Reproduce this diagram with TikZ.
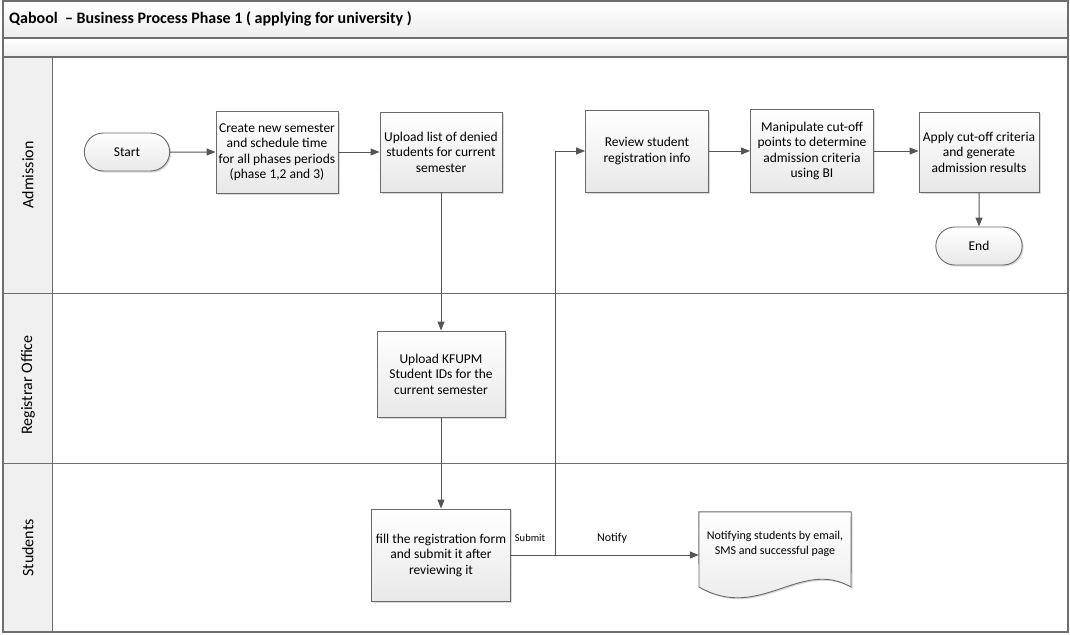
\documentclass[tikz,border=0pt]{standalone}
\usepackage{fontspec}
\setmainfont{Carlito}
\usetikzlibrary{arrows.meta,shapes.misc,shadows}
\definecolor{lineC}{HTML}{555555}
\definecolor{frameC}{HTML}{6E6E6E}
\definecolor{boxB}{HTML}{6A6A6A}
\tikzset{
  proc/.style={draw=boxB, line width=0.9pt, top color=white, bottom color=black!9,
    drop shadow={shadow xshift=1.5pt, shadow yshift=-1.5pt, fill=black!25, opacity=0.6},
    align=center, font=\fontsize{13.5}{15.5}\selectfont, inner sep=1pt},
  term/.style={draw=boxB, line width=0.9pt, rounded rectangle, top color=white, bottom color=black!9,
    drop shadow={shadow xshift=1.5pt, shadow yshift=-1.5pt, fill=black!25, opacity=0.6},
    font=\fontsize{13.5}{15}\selectfont},
  arr/.style={draw=lineC, line width=1pt, -{Triangle[length=9pt,width=7pt]}},
  lbl/.style={font=\fontsize{10.5}{12}\selectfont, inner sep=0pt},
  lane/.style={font=\fontsize{16}{18}\selectfont, rotate=90, inner sep=0pt},
}
\begin{document}
\begin{tikzpicture}[x=1pt,y=-1pt]
\useasboundingbox (0,0) rectangle (1070,634);
% frame
\shade[top color=white, bottom color=black!7] (3,1) rectangle (1068,38);
\shade[top color=white, bottom color=black!7] (3,38) rectangle (1068,57);
\fill[black!6] (3,57) rectangle (52,632);
\draw[frameC, line width=1.2pt] (3,1) rectangle (1068,632);
\draw[frameC, line width=1.2pt] (3,38) -- (1068,38);
\draw[frameC, line width=1.2pt] (3,57) -- (1068,57);
\draw[frameC, line width=1pt] (52,57) -- (52,632);
\draw[frameC, line width=1pt] (3,293) -- (1068,293);
\draw[frameC, line width=1pt] (3,463) -- (1068,463);
\node[anchor=west, font=\fontsize{16}{18}\selectfont\bfseries, inner sep=0pt] (title) at (9,19) {Qabool\ \ – Business Process Phase 1 ( applying for university )};
\node[lane] (l1) at (28,175) {Admission};
\node[lane] (l2) at (28,385) {Registrar Office};
\node[lane] (l3) at (28,548) {Students};
% nodes
\node[term, minimum width=92pt, minimum height=38pt] (start) at (127,152) {Start};
\node[proc, minimum width=122pt, minimum height=82pt] (create) at (277,152) {Create new semester\\and schedule time\\for all phases periods\\(phase 1,2 and 3)};
\node[proc, minimum width=122pt, minimum height=80pt] (upl) at (441,152) {Upload list of denied\\students for current\\semester};
\node[proc, minimum width=123pt, minimum height=82pt] (review) at (647,151) {Review student\\registration info};
\node[proc, minimum width=123pt, minimum height=83pt] (manip) at (812,151) {Manipulate cut-off\\points to determine\\admission criteria\\using BI};
\node[proc, minimum width=120pt, minimum height=80pt] (apply) at (979,152) {Apply cut-off criteria\\and generate\\admission results};
\node[term, minimum width=93pt, minimum height=38pt] (endn) at (979,246) {End};
\node[proc, minimum width=128pt, minimum height=86pt] (kfupm) at (441,374) {Upload KFUPM\\Student IDs for the\\current semester};
\node[proc, minimum width=139pt, minimum height=92pt] (fill) at (441,555) {fill the registration form\\and submit it after\\reviewing it};
% document shape
\node[minimum width=152pt, minimum height=86pt, inner sep=0pt] (doc) at (775,555) {};
\path[drop shadow={shadow xshift=1.5pt, shadow yshift=-1.5pt, fill=black!25, opacity=0.6}, top color=white, bottom color=black!9]
  (doc.north west) -- (doc.north east) -- (851,587) .. controls (800,558) and (760,622) .. (699,587) -- cycle;
\draw[boxB, line width=0.9pt]
  (doc.north west) -- (doc.north east) -- (851,587) .. controls (800,558) and (760,622) .. (699,587) -- cycle;
\node[align=center, font=\fontsize{12}{14.5}\selectfont, inner sep=0pt] (doctext) at (775,544) {Notifying students by email,\\SMS and successful page};
% connectors
\coordinate (jn) at (555,555);
\draw[arr] (start) -- (create);
\draw[arr] (create) -- (upl);
\draw[arr] (upl) -- (kfupm);
\draw[arr] (kfupm) -- (fill);
\draw[arr] (fill.east) -- (jn) |- (review.west);
\draw[arr] (fill.east) -- (doc.west);
\draw[arr] (review) -- (manip);
\draw[arr] (manip.east) -- (apply.west |- manip.east);
\draw[arr] (apply) -- (endn);
\node[lbl] (sub) at (530,538) {Submit};
\node[lbl, font=\fontsize{12}{14}\selectfont] (notify) at (612,538) {Notify};
\end{tikzpicture}
\end{document}
